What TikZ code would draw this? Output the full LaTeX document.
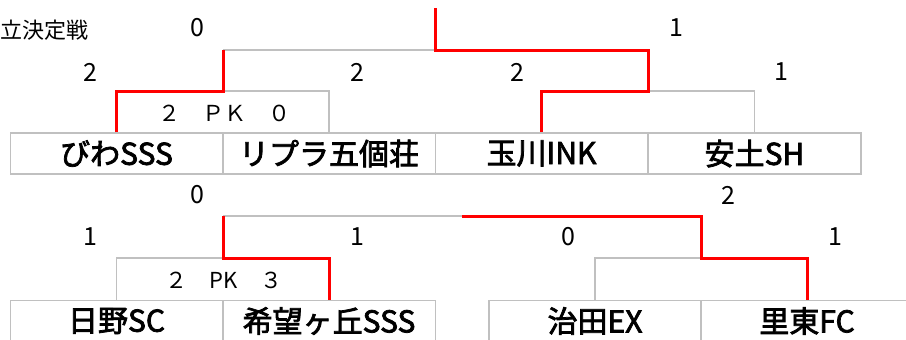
\documentclass[tikz,border=0pt]{standalone}
\usepackage{fontspec}
\setmainfont{Noto Sans CJK JP}
\newfontfamily\teamfont[RawFeature={embolden=2.5}]{Noto Sans CJK JP}
\begin{document}
\begin{tikzpicture}[x=1pt,y=-1pt,
  team/.style={draw=linegray,line width=1.5pt,minimum width=212.5pt,minimum height=41pt,inner sep=0pt,font=\teamfont\fontsize{30}{32}\selectfont},
  score/.style={inner sep=0pt,font=\fontsize{25}{27}\selectfont},
  pk/.style={inner sep=0pt,font=\fontsize{22}{24}\selectfont},
  title/.style={inner sep=0pt,anchor=west,font=\fontsize{22}{24}\selectfont},
  loser/.style={draw=linegray,line width=1.5pt},
  winner/.style={draw=winred,line width=3pt,line join=miter}]
\definecolor{linegray}{RGB}{192,192,192}
\definecolor{winred}{RGB}{255,0,0}
\useasboundingbox (0,0) rectangle (906,340);
\clip (0,0) rectangle (906,340);
% top bracket teams
\node[team] (t1) at (116.5,153.5) {びわSSS};
\node[team] (t2) at (329,153.5) {リプラ五個荘};
\node[team] (t3) at (541.5,153.5) {玉川INK};
\node[team] (t4) at (754.5,153.5) {安土SH};
% bottom bracket teams
\node[team] (t5) at (116.5,321) {日野SC};
\node[team] (t6) at (329,321) {希望ヶ丘SSS};
\node[team] (t7) at (595,321) {治田EX};
\node[team] (t8) at (807,321) {里東FC};
% junction coordinates
\coordinate (a1) at (116.5,91);
\coordinate (a2) at (329,91);
\coordinate (a12) at (223,91);
\coordinate (a3) at (541.5,91);
\coordinate (a4) at (754.5,91);
\coordinate (a34) at (648,91);
\coordinate (s12) at (223,50);
\coordinate (s34) at (648,50);
\coordinate (fin) at (435,50);
\coordinate (top) at (435,8);
\coordinate (b5) at (116.5,258);
\coordinate (b6) at (329,258);
\coordinate (b56) at (223,258);
\coordinate (b7) at (595,258);
\coordinate (b8) at (807,258);
\coordinate (b78) at (701,258);
\coordinate (u56) at (223,216);
\coordinate (u78) at (701,216);
\coordinate (mid) at (462,216);
% gray lines
\draw[loser] (t2.north) -- (a2) -- (a12);
\draw[loser] (s12) -- (fin);
\draw[loser] (a34) -- (a4) -- (t4.north);
\draw[loser] (t5.north) -- (b5) -- (b56);
\draw[loser] (u56) -- (mid);
\draw[loser] (b78) -- (b7) -- (t7.north);
% red lines
\draw[winner] (t1.north) -- (a1) -- (a12) -- (s12);
\draw[winner] (top) -- (fin) -- (s34) -- (a34) -- (a3) -- (t3.north);
\draw[winner] (t6.north) -- (b6) -- (b56) -- (u56);
\draw[winner] (mid) -- (u78) -- (b78) -- (b8) -- (t8.north);
% labels
\node[title] (ttl) at (0,30) {立決定戦};
\node[score] (sc1) at (197,28) {0};
\node[score] (sc2) at (676,28) {1};
\node[score] (sc3) at (90,72) {2};
\node[score] (sc4) at (357,72) {2};
\node[score] (sc5) at (517,72) {2};
\node[score] (sc6) at (781,72) {1};
\node[pk] (pk1) at (224,113) {２　ＰＫ　０};
\node[score] (sc7) at (197,195) {0};
\node[score] (sc8) at (728,195) {2};
\node[score] (sc9) at (90,237) {1};
\node[score] (sc10) at (357,237) {1};
\node[score] (sc11) at (568,237) {0};
\node[score] (sc12) at (835,237) {1};
\node[pk] (pk2) at (224,280) {２　PK　３};
\end{tikzpicture}
\end{document}
